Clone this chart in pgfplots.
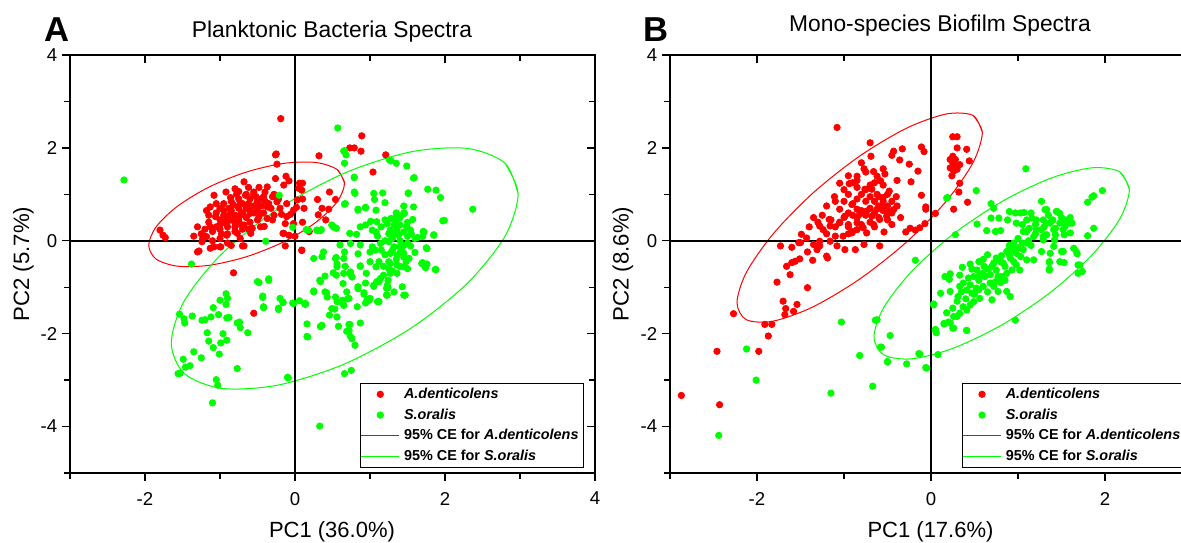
\documentclass[border=0pt]{standalone}
\usepackage{fontspec}
\setmainfont{Liberation Sans}
\usepackage{pgfplots}
\pgfplotsset{compat=1.18}
\definecolor{ored}{RGB}{255,0,0}
\definecolor{ogreen}{RGB}{0,255,0}
\pgfplotsset{
  pcabase/.style={
    scale only axis, height=209pt, ymin=-5, ymax=4,
    ytick={-4,-2,0,2,4}, minor ytick={-5,-3,-1,1,3},
    major tick length=4pt, minor tick length=3pt,
    every tick/.style={black, line width=0.7pt},
    axis line style={line width=0.8pt},
    /pgf/number format/assume math mode=true,
    ticklabel style={font=\fontsize{9.3}{10}\selectfont},
  },
  pcamain/.style={
    pcabase, tick align=outside, xtick pos=left, ytick pos=left,
    xticklabel style={anchor=north, inner sep=0pt, yshift=-5.35pt},
    yticklabel style={anchor=east, inner sep=0pt, xshift=-2.25pt},
    legend cell align=left,
    legend image code/.code={\draw[mark repeat=2,mark phase=2,##1] plot coordinates {(0pt,0pt)(9.4pt,0pt)(18.75pt,0pt)};},
    legend style={anchor=north west, draw=black, line width=0.5pt, inner xsep=0pt, inner ysep=0pt,
      font=\fontsize{7.2}{8}\selectfont\bfseries, row sep=0pt,
      nodes={inner xsep=2.3pt, inner ysep=1.6pt, text height=5.6pt, text depth=1.6pt}},
  },
  pcaover/.style={
    pcabase, tick align=inside, xtick pos=right, ytick pos=right,
    xticklabels={,,,,,}, yticklabels={,,,,,,}, axis line style={draw=none},
  },
  rdot/.style={only marks, mark=*, mark size=1.6pt, mark options={solid, fill=ored, draw=ored, line width=0.4pt}},
  gdot/.style={only marks, mark=*, mark size=1.6pt, mark options={solid, fill=ogreen, draw=ogreen, line width=0.4pt}},
}
\begin{document}
\begin{tikzpicture}
% ---------------- Panel A ----------------
\begin{axis}[pcamain, at={(35pt,34.5pt)}, anchor=south west, width=262.5pt,
  xmin=-3, xmax=4, xtick={-2,0,2,4}, minor xtick={-3,-1,1,3},
  legend style={at={(0.5533,0.2144)}}]
\addplot[rdot] coordinates {
(-0.25,1.87) (-0.24,1.65) (-0.12,1.39) (-0.26,1.34) (-0.08,1.29) (0.06,1.24) (0.09,1.09) (-0.15,1.2) (-0.68,1.27) (-0.48,1.15)
(-0.37,1.16) (-0.75,1.06) (-0.66,0.98) (-0.55,1.0) (-0.42,0.95) (-0.28,1.0) (-1.08,0.98) (-0.86,0.93) (-1.0,0.70) (-1.13,0.73)
(-0.82,0.77) (-0.73,0.80) (-0.62,0.80) (-0.51,0.77) (-0.37,0.73) (-0.24,0.84) (-0.11,0.80) (0.03,0.88) (0.12,0.70) (-0.02,0.66)
(-1.06,0.52) (-0.95,0.55) (-0.86,0.59) (-0.73,0.55) (-0.60,0.59) (-0.48,0.52) (-0.37,0.48) (-0.28,0.55) (-0.13,0.37) (-0.11,0.52)
(-1.13,0.30) (-1.0,0.34) (-0.91,0.37) (-0.80,0.30) (-0.68,0.34) (-0.57,0.27) (-0.46,0.30) (-0.77,0.16) (-0.91,0.12) (-1.20,0.09)
(-1.24,-0.02) (-1.08,-0.13) (-1.0,-0.13) (-1.28,-0.22) (-0.68,-0.11) (-0.73,0.05) (-0.15,0.16) (-0.08,0.12) (-1.80,0.23) (-1.76,0.12)
(-1.73,0.07) (0.09,-0.2) (-0.02,0.37)
(-0.19,2.63) (-0.26,1.85) (0.32,1.83) (0.73,2.0) (0.79,2.0) (0.89,2.26) (0.88,1.93) (1.21,1.85) (1.04,1.48) (0.46,1.05)
(0.54,0.89) (0.30,0.89) (0.36,0.70) (0.45,0.68) (0.31,0.56) (0.41,0.45) (0.10,0.40) (0.19,0.20) (0.09,-0.21) (-0.13,-0.11)
(0.0,0.10) (-0.82,-0.69) (-0.55,-1.56) (-1.30,-0.24) (-1.13,-0.16) (-0.99,-0.13) (-0.85,-0.1) (-0.70,-0.11) (0.10,1.24) (0.05,1.13)
(0.10,0.9) (0.02,0.72) (-0.06,0.57) (-0.18,0.57) (-0.16,0.16) (-0.59,0.16) (-0.41,0.31)
(-1.1,0.2) (-1.05,0.3) (-1.0,0.25) (-0.95,0.4) (-0.9,0.3) (-0.9,0.5) (-0.85,0.45) (-0.85,0.65) (-0.8,0.55) (-0.8,0.4)
(-0.75,0.7) (-0.75,0.45) (-0.7,0.6) (-0.7,0.8) (-0.65,0.5) (-0.65,0.7) (-0.6,0.65) (-0.6,0.9) (-0.55,0.75) (-0.55,0.6)
(-0.5,0.85) (-0.5,0.65) (-0.45,0.9) (-0.45,0.75) (-0.4,0.85) (-0.4,1.05) (-0.35,0.8) (-0.3,0.95) (-0.95,0.65) (-1.0,0.45)
(-1.05,0.6) (-1.15,0.4) (-1.2,0.25) (-0.9,0.15) (-0.8,0.2) (-0.7,0.25) (-0.6,0.4) (-0.5,0.45) (-0.95,0.8) (-0.85,0.85)
(-0.75,0.9) (-0.65,1.0) (-0.55,1.05) (-1.0,0.05) (-0.9,-0.05) (-1.1,0.0) (-1.23,0.05) (-1.18,0.09)
(-1.25,0.15) (-1.15,0.55) (-1.05,0.8) (-0.98,0.15) (-0.88,0.7) (-0.78,1.0) (-0.72,0.35) (-0.62,0.25) (-0.52,0.95) (-0.42,0.6)
(-0.32,0.7) (-0.22,0.9) (-0.2,0.7) (-0.3,0.45) (-1.35,0.1) (-1.3,0.3) (-1.18,0.65) (-0.92,1.05) (-0.8,1.12) (-0.62,1.15)
};
\addlegendentry{\textit{A.denticolens}}
\addplot[gdot] coordinates {
(0.66,1.94) (0.68,1.85) (1.28,1.72) (1.35,1.67) (1.49,1.61) (1.59,1.36) (0.79,1.36) (0.80,1.02) (1.05,1.02) (1.17,1.03)
(1.06,0.89) (1.2,0.82) (1.51,1.03) (1.77,1.11) (1.88,1.09) (1.94,0.93) (2.37,0.68) (1.97,0.43) (0.67,0.80) (0.84,0.66)
(0.94,0.71) (1.08,0.66) (1.45,0.75) (1.46,0.59) (1.35,0.60) (1.28,0.48) (1.57,0.46) (1.01,0.42) (1.09,0.41) (0.94,0.34)
(0.87,0.30) (0.82,0.14) (0.73,0.16) (1.03,0.23) (1.08,0.19) (1.23,0.37) (1.32,0.34) (1.40,0.34) (1.49,0.30) (1.27,0.23)
(1.36,0.23) (1.45,0.19) (1.54,0.23) (1.72,0.19) (1.70,0.09) (1.85,0.12) (1.63,0.07) (0.52,0.29) (0.49,0.34) (0.34,0.22)
(0.29,0.23) (0.18,0.23) (0.74,-0.06) (0.87,-0.09) (1.03,-0.13) (1.14,-0.06) (1.25,-0.02) (1.32,-0.13) (1.40,-0.13) (1.54,-0.11)
(0.60,-0.09) (1.0,-0.24) (1.07,-0.2) (1.27,-0.27) (1.36,-0.31) (1.45,-0.27) (1.52,-0.38) (1.75,-0.15) (0.25,-0.38) (0.38,-0.24)
(0.36,-0.34) (0.54,-0.38) (0.65,-0.38) (0.56,-0.56) (0.67,-0.55) (0.87,-0.55) (1.08,-0.56) (1.18,-0.55) (1.27,-0.49) (1.36,-0.52)
(1.45,-0.56) (1.69,-0.49) (1.74,-0.52) (1.87,-0.62) (0.55,-0.74) (0.65,-0.70) (0.76,-0.78) (0.74,-0.67) (1.18,-0.74) (1.27,-0.70)
(1.36,-0.70) (1.14,-0.81) (1.24,-0.85) (0.34,-0.88) (0.64,-0.92) (0.94,-0.91) (1.09,-0.88) (1.05,-0.98) (0.84,-1.03) (1.24,-1.01)
(1.47,-1.17) (1.32,-1.10) (1.23,-1.17) (0.25,-1.10) (0.42,-1.12) (0.43,-1.21) (0.54,-1.21) (0.56,-1.31) (0.63,-1.28) (0.69,-1.10)
(0.72,-1.24) (0.92,-1.15) (0.96,-1.28) (1.0,-1.24) (1.12,-1.31) (0.14,-1.35) (0.49,-1.46) (0.65,-1.39) (0.83,-1.42)
(-2.28,1.31) (-1.38,-0.50) (-0.39,-0.01) (-0.21,0.98) (0.57,2.43) (-0.50,-0.88) (-0.35,-0.82) (-0.43,-1.19) (-0.42,-1.42) (-0.22,-1.45)
(-0.16,-1.32) (-0.03,-1.34) (0.13,-1.36) (0.16,-1.79) (0.34,-1.84) (0.36,-1.82) (0.16,-2.06) (-0.10,-2.94) (0.33,-3.99) (0.66,-2.86)
(0.75,-2.79) (0.80,-2.25) (0.74,-2.06) (0.69,-1.95) (0.73,-1.80) (0.58,-1.84) (0.56,-1.64) (0.46,-1.60) (0.53,-1.47) (0.63,-1.34)
(0.70,-1.25) (0.40,-1.10) (0.25,-1.08) (0.33,-0.85) (0.40,-0.76) (0.51,-0.69) (0.56,-0.50) (0.55,-0.36) (0.66,-0.24) (0.84,-0.28)
(0.87,-0.54) (0.74,-0.73) (0.84,-0.99) (0.92,-1.12) (0.94,-1.34) (1.10,-1.31) (1.22,-1.17) (1.45,-1.17) (1.43,-0.99) (1.22,-1.02)
(1.76,-0.50) (1.74,-0.58) (1.88,-0.62) (1.70,-0.47) (1.76,-0.17) (1.85,0.13) (1.71,0.20) (1.99,0.44) (1.58,1.35) (1.51,1.02)
(1.58,0.73) (1.26,1.74) (0.66,1.67) (0.79,1.37) (0.79,1.05) (0.66,0.79) (0.84,0.68) (0.94,0.72) (0.65,1.93) (-0.03,0.29)
(0.15,0.24) (0.30,0.22) (0.35,0.24) (0.51,0.31) (0.55,0.27)
(-0.48,-0.90) (-0.35,-0.85) (-0.43,-1.22) (-0.42,-1.44) (-0.20,-1.24) (-0.16,-1.33) (-0.22,-1.48) (-0.02,-1.35) (0.06,-1.29) (0.14,-1.37)
(-0.92,-1.14) (-0.90,-1.24) (-0.92,-1.37) (-1.00,-1.28) (-1.09,-1.44) (-1.02,-1.59) (-0.91,-1.66) (-0.88,-1.65) (-1.12,-1.64) (-1.20,-1.70)
(-1.24,-1.71) (-1.37,-1.62) (-1.54,-1.58) (-1.48,-1.68) (-1.47,-1.77) (-0.77,-1.77) (-0.73,-1.87) (-0.74,-1.75) (-0.63,-1.98) (-1.17,-1.98)
(-1.15,-2.16) (-1.09,-2.30) (-0.99,-2.20) (-0.96,-2.00) (-0.91,-2.14) (-1.01,-2.44) (-1.35,-2.39) (-1.25,-2.52) (-1.49,-2.55) (-1.46,-2.72)
(-1.40,-2.69) (-1.56,-2.86) (-1.53,-2.85) (-0.77,-2.75) (-1.05,-2.99) (-1.03,-3.11) (-1.10,-3.49) (-0.09,-2.95) (0.42,-1.13) (0.17,-2.07)
(0.34,-1.85) (0.64,-1.35) (0.72,-1.80) (0.72,-1.93) (0.76,-2.11) (0.87,-1.77) (1.05,-0.96) (1.12,-0.88) (0.99,-1.28) (1.23,-0.96)
(1.2,0.0) (1.3,0.05) (1.4,0.0) (1.5,-0.05) (1.35,-0.4) (1.45,-0.35) (1.25,-0.45) (1.4,-0.55) (1.3,-0.65) (1.5,-0.6)
(1.2,0.45) (1.4,0.5) (1.45,0.6) (1.35,0.4) (1.5,0.4) (1.25,0.15) (1.55,0.15) (1.6,-0.25) (1.15,-0.2) (1.1,0.1)
(1.3,-0.2) (1.42,-0.15) (1.38,0.12) (1.48,-0.45)
(1.15,0.3) (1.3,0.15) (1.4,-0.25) (1.2,-0.3) (1.5,0.1) (1.33,0.48) (1.12,-0.45) (1.25,-0.6) (1.45,-0.1) (1.6,0.05)
(1.0,-0.45) (0.95,-0.7)
};
\addlegendentry{\textit{S.oralis}}
\addplot[ored, line width=0.5pt, smooth, mark=none] coordinates {
(0.660,1.238) (0.561,1.535) (0.278,1.686) (-0.145,1.668) (-0.645,1.482) (-1.145,1.158) (-1.568,0.743) (-1.851,0.302)
(-1.950,-0.098) (-1.851,-0.395) (-1.568,-0.546) (-1.145,-0.528) (-0.645,-0.342) (-0.145,-0.018) (0.278,0.397) (0.561,0.838)
(0.660,1.238) (0.561,1.535)};
\addlegendentry{95\% CE for \textit{A.denticolens}}
\addplot[ogreen, line width=0.5pt, smooth, mark=none] coordinates {
(2.975,1.007) (2.800,1.671) (2.298,1.989) (1.548,1.916) (0.663,1.460) (-0.223,0.689) (-0.972,-0.275) (-1.474,-1.288)
(-1.650,-2.197) (-1.474,-2.861) (-0.972,-3.179) (-0.223,-3.106) (0.663,-2.650) (1.548,-1.879) (2.298,-0.915) (2.800,0.098)
(2.975,1.007) (2.800,1.671)};
\addlegendentry{95\% CE for \textit{S.oralis}}
\addplot[black, line width=0.8pt, forget plot] coordinates {(-3,0) (4,0)};
\addplot[black, line width=0.8pt, forget plot] coordinates {(0,-5) (0,4)};
\end{axis}
\begin{axis}[pcaover, at={(35pt,34.5pt)}, anchor=south west, width=262.5pt,
  xmin=-3, xmax=4, xtick={-2,0,2,4}, minor xtick={-3,-1,1,3}]
\end{axis}
% ---------------- Panel B ----------------
\begin{axis}[pcamain, at={(335pt,34.5pt)}, anchor=south west, width=261pt,
  xmin=-3, xmax=3, xtick={-2,0,2}, minor xtick={-3,-1,1,3},
  legend style={at={(0.5598,0.2144)}}]
\addplot[rdot] coordinates {
(-1.08,2.44) (-0.70,2.11) (-0.43,1.93) (-0.33,1.98) (-0.36,1.74) (-0.45,1.84) (-0.11,2.02) (-0.08,1.92) (-0.69,1.82) (-0.80,1.68)
(-0.77,1.55) (-0.75,1.48) (-0.66,1.49) (-0.55,1.55) (-0.53,1.44) (-0.62,1.39) (-0.58,1.29) (-0.85,1.39) (-0.95,1.40) (-1.05,1.24)
(-0.94,1.23) (-0.25,1.65) (-0.15,1.50) (-0.39,1.30) (-0.23,1.27) (-0.48,1.07) (-0.11,0.98) (-0.06,0.73) (-0.06,0.68) (0.05,0.59)
(-0.07,0.37) (-0.13,0.28) (-0.18,0.23) (-0.29,0.19) (-0.24,0.27) (-0.39,0.75) (-0.54,0.19) (-0.59,-0.11)
(0.25,2.24) (0.30,2.24) (0.30,2.00) (0.41,1.97) (0.44,1.72) (0.25,1.82) (0.25,1.68) (0.28,1.61) (0.30,1.54) (0.24,1.40)
(0.33,1.24) (0.32,1.05) (0.42,0.83) (0.26,0.68) (0.22,1.75) (0.28,1.75) (0.22,1.57) (0.33,1.64) (0.26,1.50)
(-0.76,1.11) (-0.68,1.11) (-0.62,1.0) (-0.55,0.93) (-0.45,0.85) (-0.43,0.67) (-0.51,0.53) (-0.59,0.46) (-0.66,0.35) (-0.78,0.28)
(-0.85,0.24) (-0.91,0.17) (-1.01,0.10) (-1.10,0.10) (-1.16,-0.01) (-1.28,-0.01) (-1.35,-0.08) (-1.43,0.06) (-1.49,0.14) (-1.50,-0.04)
(-1.05,0.68) (-0.99,0.53) (-0.91,0.78) (-0.85,0.68) (-0.82,0.57) (-0.74,0.64) (-0.68,0.53) (-0.62,0.68) (-0.55,0.75) (-0.49,0.64)
(-1.05,0.39) (-0.95,0.35) (-0.85,0.39) (-0.74,0.17) (-1.24,0.24) (-1.16,0.32) (-1.28,0.32) (-1.35,0.50) (-1.17,0.46) (-1.11,0.95)
(-1.20,0.75)
(-1.73,-0.11) (-1.60,-0.14) (-1.52,-0.04) (-1.42,-0.24) (-1.36,-0.42) (-1.31,-0.19) (-1.28,-0.11) (-1.20,-0.33) (-1.19,-0.37) (-0.99,-0.19)
(-0.87,-0.19) (-0.77,-0.08) (-1.08,-0.11)
(-1.66,-0.55) (-1.60,-0.47) (-1.56,-0.44) (-1.51,-0.39) (-1.62,-0.73) (-1.77,-0.89) (-1.42,-1.01) (-1.70,-1.30) (-1.67,-1.46) (-1.68,-1.59)
(-1.58,-1.52) (-1.54,-1.37) (-2.27,-1.57) (-1.91,-1.80) (-1.83,-1.80) (-1.87,-2.05)
(-2.87,-3.33) (-2.46,-2.38) (-2.43,-3.53) (-1.98,-2.38)
(-1.0,0.5) (-0.95,0.6) (-0.9,0.55) (-0.9,0.8) (-0.85,0.5) (-0.85,0.9) (-0.8,0.65) (-0.8,1.0) (-0.75,0.55) (-0.75,0.85)
(-0.7,0.7) (-0.7,0.95) (-0.65,0.6) (-0.65,0.85) (-0.6,0.75) (-0.6,0.95) (-0.55,0.65) (-0.55,0.85) (-0.5,0.75) (-0.5,0.45)
(-0.45,0.6) (-1.05,0.4) (-1.1,0.3) (-1.15,0.45) (-1.2,0.15) (-0.95,0.3) (-0.9,0.2) (-0.8,0.35) (-0.7,0.4) (-0.65,0.3)
(-0.6,0.5) (-0.75,1.1) (-0.7,1.2) (-0.85,1.15) (-1.0,0.85) (-0.95,1.0)
(-1.3,0.4) (-1.25,0.55) (-1.4,0.3) (-1.1,0.85) (-0.95,0.15) (-0.85,1.3) (-0.65,1.25) (-0.5,1.0) (-0.4,0.95) (-0.45,0.35)
(-0.35,0.5) (-1.0,1.1) (-0.9,1.25) (-0.55,1.2)
};
\addlegendentry{\textit{A.denticolens}}
\addplot[gdot] coordinates {
(-2.44,-4.19) (-2.12,-2.33) (-2.01,-3.00) (-1.15,-3.28) (-1.03,-1.75) (-0.82,-2.47) (-0.67,-3.13) (-0.64,-1.71) (-0.47,-2.04) (-0.58,-2.29)
(-0.50,-2.61) (-0.28,-2.65) (-0.14,-2.43) (-0.05,-2.74) (0.08,-2.45) (-0.18,-0.42) (0.05,-1.91) (0.06,-1.98) (0.03,-1.36) (0.15,-1.78)
(0.20,-1.75) (0.26,-1.88) (0.41,-1.93) (0.97,-1.71)
(0.18,0.92) (0.52,1.08) (0.28,0.13) (0.53,0.36) (0.69,0.80) (0.72,0.70) (0.69,0.49) (0.64,0.22) (0.74,0.20) (0.80,0.22)
(0.78,0.49) (0.88,0.45) (0.90,0.63) (0.97,0.60) (1.03,0.60) (1.07,0.61) (0.98,0.38) (1.06,0.20) (1.10,0.20) (1.13,0.27)
(1.16,0.49) (1.21,0.45) (1.27,0.85) (1.33,0.67) (1.29,0.45) (1.37,0.38) (1.43,0.27) (1.44,0.63) (1.48,0.59) (1.48,0.38)
(1.54,0.31) (1.57,0.45) (1.62,0.38) (1.60,0.17) (1.53,0.13) (1.43,0.13) (1.33,0.13) (1.21,0.24) (1.18,0.09) (1.29,0.02)
(1.80,0.83) (1.87,0.97) (1.97,1.08) (1.87,0.27) (1.80,0.11) (1.64,-0.16) (1.67,-0.23) (1.52,-0.23) (1.48,-0.45) (1.69,-0.52)
(1.74,-0.66) (1.69,-0.70) (1.37,-0.27) (1.27,-0.23) (1.36,-0.45) (1.36,-0.61) (1.18,-0.41) (1.10,-0.41) (1.02,-0.63) (0.98,-0.52)
(0.16,-0.77) (0.22,-0.71) (0.21,-0.83) (0.33,-0.74) (0.36,-0.57) (0.47,-0.61) (0.53,-0.63) (0.61,-0.55) (0.66,-0.61) (0.72,-0.48)
(0.75,-0.37) (0.81,-0.32) (0.87,-0.23) (0.94,-0.18) (0.98,-0.27) (1.06,-0.19) (1.03,-0.34) (0.91,-0.37) (0.83,-0.48) (0.75,-0.63)
(0.68,-0.73) (0.62,-0.77) (0.56,-0.73) (0.49,-0.77) (0.43,-0.80) (0.37,-0.91) (0.33,-0.98) (0.41,-1.06) (0.47,-1.13) (0.52,-1.02)
(0.60,-0.98) (0.68,-0.91) (0.74,-0.88) (0.81,-0.77) (0.87,-0.70) (0.93,-0.63) (0.85,-0.55) (0.77,-0.77) (0.72,-0.98) (0.77,-1.09)
(0.87,-1.09) (0.91,-1.20) (0.70,-1.27) (0.56,-1.24) (0.49,-1.31) (0.45,-1.38) (0.41,-1.49) (0.33,-1.56) (0.30,-1.63) (0.26,-1.63)
(0.37,-1.42) (0.31,-1.20) (0.22,-1.09) (0.11,-1.13) (0.22,-1.77) (0.15,-1.79) (0.25,-1.88) (0.41,-1.93) (0.05,-1.92) (0.03,-1.38)
(-0.62,-1.70) (-0.57,-2.29) (-0.13,-2.44) (-0.50,-2.60) (-0.06,-2.73)
(1.85,0.94) (1.68,-0.28) (1.71,-0.52) (1.53,-0.47) (1.36,-0.63) (1.36,-0.47) (1.50,-0.23) (1.41,-0.12) (1.31,0.67) (1.45,0.63)
(1.59,0.38) (1.54,0.45) (1.41,0.24) (1.52,0.24) (1.29,0.09) (1.42,0.02) (1.33,0.38) (1.27,0.24) (1.09,1.55) (0.19,0.93)
(0.95,-0.05) (1.0,0.05) (1.05,-0.05) (1.12,0.0) (0.9,-0.1) (0.6,-0.4) (0.65,-0.3) (0.55,-0.45) (0.45,-0.5) (0.8,-0.9)
(0.65,-1.1) (0.55,-1.05) (0.95,-0.45) (1.15,-0.1) (1.2,0.35) (1.1,0.45) (1.05,0.35)
(0.3,-1.3) (0.35,-1.1) (0.45,-0.95) (0.55,-0.85) (0.6,-0.7) (0.7,-0.55) (0.8,-0.45) (0.9,-0.3) (1.0,-0.15) (1.1,-0.05)
(1.2,0.15) (1.3,0.3) (1.4,0.45) (1.5,0.5) (0.4,-1.25) (0.5,-1.15) (0.85,-0.85) (1.15,0.6) (1.35,0.55) (1.6,0.5)
(0.25,-1.45) (0.18,-1.55)
};
\addlegendentry{\textit{S.oralis}}
\addplot[ored, line width=0.5pt, smooth, mark=none] coordinates {
(0.590,2.331) (0.483,2.699) (0.177,2.731) (-0.280,2.426) (-0.820,1.824) (-1.360,1.024) (-1.817,0.143) (-2.123,-0.684)
(-2.230,-1.331) (-2.123,-1.699) (-1.817,-1.731) (-1.360,-1.426) (-0.820,-0.824) (-0.280,-0.024) (0.177,0.857) (0.483,1.684)
(0.590,2.331) (0.483,2.699)};
\addlegendentry{95\% CE for \textit{A.denticolens}}
\addplot[ogreen, line width=0.5pt, smooth, mark=none] coordinates {
(2.280,1.097) (2.169,1.485) (1.850,1.572) (1.375,1.347) (0.813,0.843) (0.250,0.137) (-0.225,-0.665) (-0.544,-1.439)
(-0.655,-2.067) (-0.544,-2.455) (-0.225,-2.542) (0.250,-2.317) (0.813,-1.813) (1.375,-1.107) (1.850,-0.305) (2.169,0.469)
(2.280,1.097) (2.169,1.485)};
\addlegendentry{95\% CE for \textit{S.oralis}}
\addplot[black, line width=0.8pt, forget plot] coordinates {(-3,0) (3,0)};
\addplot[black, line width=0.8pt, forget plot] coordinates {(0,-5) (0,4)};
\end{axis}
\begin{axis}[pcaover, at={(335pt,34.5pt)}, anchor=south west, width=261pt,
  xmin=-3, xmax=3, xtick={-2,0,2}, minor xtick={-3,-1,1,3}]
\end{axis}
% ---------------- texts ----------------
\node[anchor=base, font=\fontsize{11}{13}\selectfont] at (166pt,2.5pt) {PC1 (36.0\%)};
\node[anchor=base, font=\fontsize{11}{13}\selectfont] at (465.25pt,2.5pt) {PC1 (17.6\%)};
\node[anchor=base, rotate=90, font=\fontsize{11.1}{13}\selectfont] at (14.5pt,139pt) {PC2 (5.7\%)};
\node[anchor=base, rotate=90, font=\fontsize{11.1}{13}\selectfont] at (314.25pt,139pt) {PC2 (8.6\%)};
\node[anchor=base, font=\fontsize{11.4}{13}\selectfont] at (166pt,252.4pt) {Planktonic Bacteria Spectra};
\node[anchor=base, font=\fontsize{11.4}{13}\selectfont] at (470pt,255.15pt) {Mono-species Biofilm Spectra};
\node[anchor=base west, inner sep=0pt, font=\fontsize{17.3}{20}\selectfont\bfseries] at (22pt,250.3pt) {A};
\node[anchor=base west, inner sep=0pt, font=\fontsize{17.3}{20}\selectfont\bfseries] at (321.3pt,250.3pt) {B};
\pgfresetboundingbox
\path[use as bounding box] (0,0) rectangle (590.5pt,271pt);
\end{tikzpicture}
\end{document}
